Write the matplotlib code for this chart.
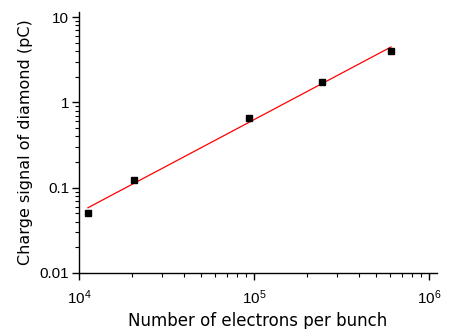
import numpy as np
import matplotlib
matplotlib.use("Agg")
import matplotlib.pyplot as plt
from matplotlib.ticker import LogLocator, FixedLocator, FixedFormatter, NullFormatter

plt.rcParams['font.family'] = ['Liberation Sans', 'DejaVu Sans']
plt.rcParams['mathtext.fontset'] = 'custom'
plt.rcParams['mathtext.rm'] = 'Liberation Sans'

electrons = [11250, 20600, 93600, 245000, 607000]
charge_pC = [0.0505, 0.123, 0.656, 1.73, 4.0]

fig = plt.figure(figsize=(4.5, 3.29), dpi=100)
ax = fig.add_axes([79/450, 1-273/329, (437-79)/450, (273-12)/329])

lx = np.log10(electrons)
ly = np.log10(charge_pC)
k, b = np.polyfit(lx, ly, 1)
xf = np.array([min(electrons), max(electrons)])
ax.plot(xf, 10**(k*np.log10(xf)+b), color='red', lw=0.9)
ax.plot(electrons, charge_pC, 's', color='black', ms=5, zorder=3)

ax.set_xscale('log')
ax.set_yscale('log')
ax.set_xlim(1e4, 10**6.046)
ax.set_ylim(0.01, 10**1.059)

for s in ['top', 'right']:
    ax.spines[s].set_visible(False)
ax.spines['left'].set_linewidth(1.0)
ax.spines['bottom'].set_linewidth(1.0)

ax.xaxis.set_major_locator(FixedLocator([1e4, 1e5, 1e6]))
ax.xaxis.set_major_formatter(FixedFormatter([r'$\mathregular{10^4}$', r'$\mathregular{10^5}$', r'$\mathregular{10^6}$']))
ax.xaxis.set_minor_locator(LogLocator(base=10, subs=np.arange(2, 10)))
ax.xaxis.set_minor_formatter(NullFormatter())
ax.yaxis.set_major_locator(FixedLocator([0.01, 0.1, 1, 10]))
ax.yaxis.set_major_formatter(FixedFormatter(['0.01', '0.1', '1', '10']))
ax.yaxis.set_minor_locator(LogLocator(base=10, subs=np.arange(2, 10)))
ax.yaxis.set_minor_formatter(NullFormatter())

ax.tick_params(which='major', direction='out', length=5, width=1, labelsize=11, pad=2)
ax.tick_params(which='minor', direction='out', length=3, width=0.8)
ax.tick_params(axis='x', which='major', pad=6)

ax.set_xlabel('Number of electrons per bunch', fontsize=12, labelpad=4,
              family=['DejaVu Sans'])
ax.set_ylabel('Charge signal of diamond (pC)', fontsize=11.5, labelpad=5,
              family=['DejaVu Sans'])

fig.savefig('out.png', dpi=100)
